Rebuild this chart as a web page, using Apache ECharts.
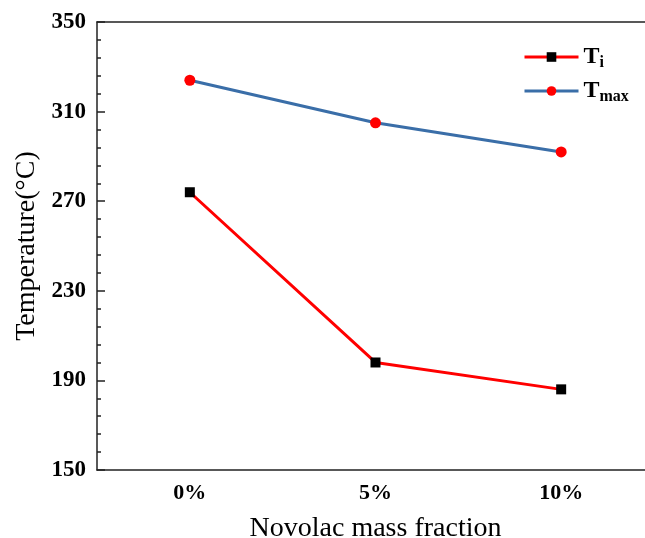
<!DOCTYPE html>
<html>
<head>
<meta charset="utf-8">
<style>
  html, body { margin: 0; padding: 0; background: #fff; }
  #chart { width: 645px; height: 538px; }
</style>
<script src="https://cdn.jsdelivr.net/npm/echarts@6/dist/echarts.min.js"></script>
</head>
<body>
<div id="chart"></div>
<script>
// Onset and peak decomposition temperatures vs. novolac content
const categories = ['0%', '5%', '10%'];
const tInitial = [274, 198, 186];
const tMax = [324, 305, 292];
const yTicks = { min: 150, max: 350, interval: 40 };

const serif = '"Liberation Serif", "Times New Roman", serif';
const chart = echarts.init(document.getElementById('chart'));

// Legend labels with subscripts
const legendRich = {
  m: { fontFamily: serif, fontSize: 24, fontWeight: 'bold', color: '#000', lineHeight: 24 },
  s: { fontFamily: serif, fontSize: 16, fontWeight: 'bold', color: '#000', lineHeight: 24, padding: [12, 0, 0, 0] }
};
function legendFor(name, label, top) {
  return {
    left: 518, top: top,
    itemWidth: 54, itemHeight: 12,
    lineStyle: { width: 3 },
    data: [name],
    formatter: function () { return label; },
    textStyle: { fontFamily: serif, rich: legendRich }
  };
}

const axisColor = '#222';

chart.setOption({
  animation: false,
  backgroundColor: '#fff',
  grid: {
    left: 97, top: 22, height: 448, width: 557,
    outerBoundsMode: 'none',
    containLabel: false
  },
  legend: [
    legendFor('Ti', '{m|T}{s|i}', 38),
    legendFor('Tmax', '{m|T}{s|max}', 72)
  ],
  xAxis: [
    {
      type: 'category',
      data: categories,
      name: 'Novolac mass fraction',
      nameLocation: 'middle',
      nameGap: 45,
      nameTextStyle: { fontFamily: serif, fontSize: 28, color: '#000' },
      axisLine: { lineStyle: { color: axisColor, width: 1.5 } },
      axisTick: { inside: true, alignWithLabel: true, length: 7, lineStyle: { color: axisColor, width: 1.5 } },
      axisLabel: { fontFamily: serif, fontSize: 22, fontWeight: 'bold', color: '#000', margin: 12 },
      splitLine: { show: false }
    },
    {
      // frame line along the top of the plot
      type: 'category',
      data: categories,
      position: 'top',
      axisLine: { lineStyle: { color: axisColor, width: 1.5 } },
      axisTick: { show: false },
      axisLabel: { show: false },
      splitLine: { show: false }
    }
  ],
  yAxis: {
    type: 'value',
    min: yTicks.min, max: yTicks.max, interval: yTicks.interval,
    name: 'Temperature(°C)',
    nameLocation: 'middle',
    nameGap: 55,
    nameTextStyle: { fontFamily: serif, fontSize: 28, color: '#000' },
    axisLine: { show: true, lineStyle: { color: axisColor, width: 1.5 } },
    axisTick: { show: true, inside: true, length: 8, lineStyle: { color: axisColor, width: 1.5 } },
    minorTick: { show: true, splitNumber: 5, length: 4, lineStyle: { color: axisColor, width: 1.5 } },
    axisLabel: { fontFamily: serif, fontSize: 23, fontWeight: 'bold', color: '#000', margin: 11 },
    splitLine: { show: false }
  },
  series: [
    {
      name: 'Ti', type: 'line', data: tInitial,
      symbol: 'rect', symbolSize: 10,
      lineStyle: { color: '#ff0000', width: 3 },
      itemStyle: { color: '#000' }
    },
    {
      name: 'Tmax', type: 'line', data: tMax,
      symbol: 'circle', symbolSize: 11,
      lineStyle: { color: '#3a6ea8', width: 3 },
      itemStyle: { color: '#ff0000' }
    }
  ]
});
</script>
</body>
</html>
